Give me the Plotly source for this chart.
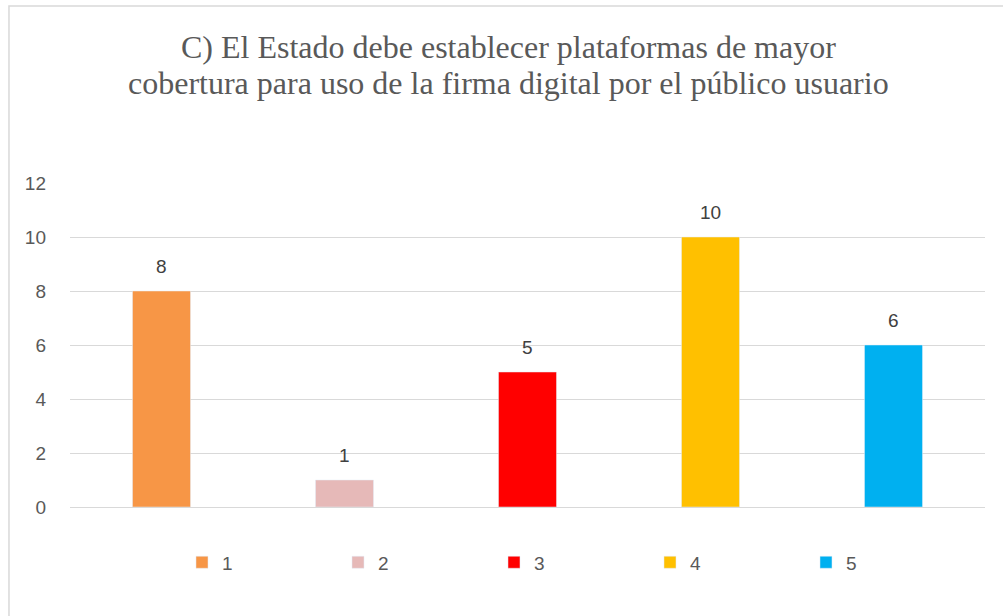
"""
Bar chart: respuestas a la afirmación C (plataformas de firma digital).
"""
import plotly.graph_objects as go

categories = ["1", "2", "3", "4", "5"]
values = [8, 1, 5, 10, 6]
colors = ["#F79646", "#E6B9B8", "#FF0000", "#FFC000", "#00B0F0"]
y_ticks = [0, 2, 4, 6, 8, 10, 12]

title_lines = ["C) El Estado debe establecer plataformas de mayor",
               "cobertura para uso de la firma digital por el público usuario"]

fig = go.Figure()

# one trace per category so every bar gets its own legend entry
for cat, val, col in zip(categories, values, colors):
    fig.add_trace(go.Bar(x=[cat], y=[val], name=cat, marker_color=col,
                         width=0.317, hoverinfo="x+y"))

# data labels above the bars (category axis -> use the index as position)
for i, val in enumerate(values):
    fig.add_annotation(x=i, y=val, text=str(val), showarrow=False,
                       yanchor="bottom", yshift=12,
                       font=dict(family="Liberation Sans", size=19, color="#404040"))

# title as two lines (tighter line spacing than a <br> title)
for ty, line in zip([1.42, 1.309], title_lines):
    fig.add_annotation(xref="paper", yref="paper", x=0.4787, y=ty, text=line,
                       showarrow=False, xanchor="center", yanchor="middle",
                       font=dict(family="Liberation Serif", size=32, color="#595959"))

# light frame round the chart area
fig.add_shape(type="rect", xref="paper", yref="paper",
              x0=-0.0667, x1=1.1, y0=-0.7, y1=1.546,
              line=dict(color="#D9D9D9", width=1.5), fillcolor="rgba(0,0,0,0)")

fig.update_layout(
    width=1003, height=616,
    margin=dict(l=70, r=18, t=183, b=109),
    paper_bgcolor="white", plot_bgcolor="white",
    barmode="overlay",
    legend=dict(orientation="h", xanchor="left", x=0.1224, yanchor="middle", y=-0.171,
                entrywidth=111, entrywidthmode="pixels",
                font=dict(family="Liberation Sans", size=19, color="#595959")),
    showlegend=True,
)

fig.update_xaxes(type="category", categoryorder="array", categoryarray=categories,
                 range=[-0.5, 4.5], showticklabels=False, showgrid=False,
                 showline=False, zeroline=False, ticks="")
fig.update_yaxes(range=[0, 12], tickvals=y_ticks, showgrid=True,
                 gridcolor="#D9D9D9", gridwidth=1, zeroline=True,
                 zerolinecolor="#D9D9D9", zerolinewidth=1, showline=False,
                 ticks="", ticklabelstandoff=23,
                 tickfont=dict(family="Liberation Sans", size=19, color="#595959"))

# drop the default body margin so the figure sits at the page corner
fig.write_html("out.html", config={"displayModeBar": False},
               post_script="document.body.style.margin='0px';")
